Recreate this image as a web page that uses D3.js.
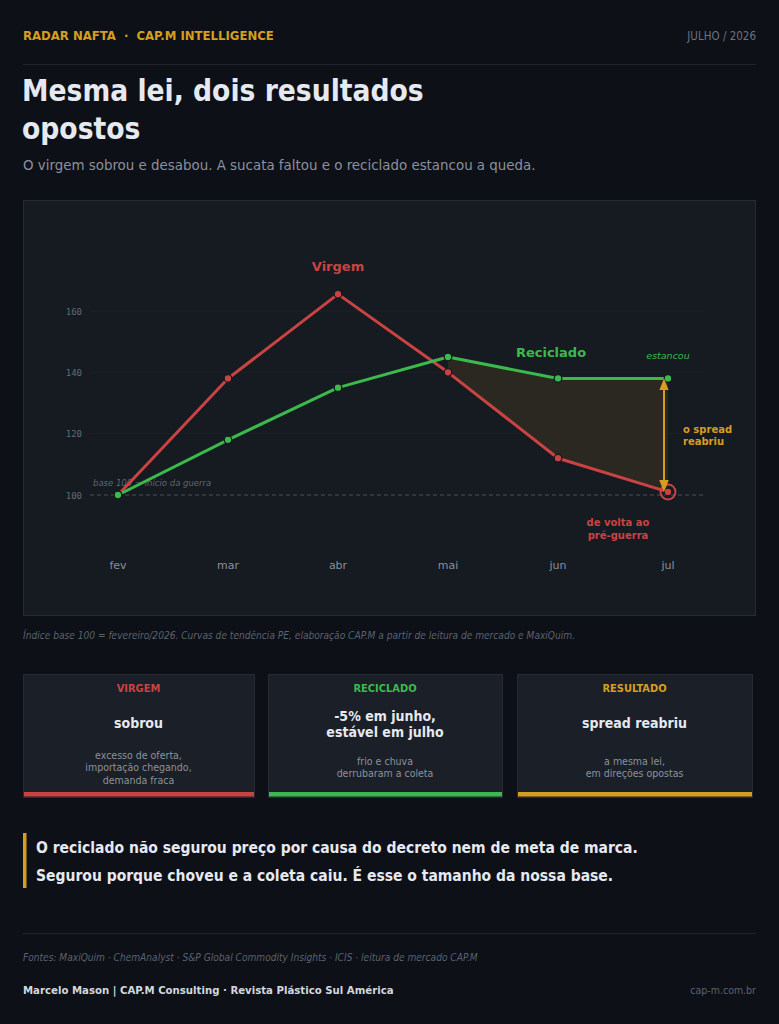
<!DOCTYPE html>
<html>
<head>
<meta charset="utf-8">
<script src="https://cdn.jsdelivr.net/npm/d3@7"></script>
<style>
  html, body { margin: 0; padding: 0; background: #0d1017; }
  svg { display: block; }
</style>
</head>
<body>
<div id="chart"></div>
<script>
var months = ["fev", "mar", "abr", "mai", "jun", "jul"];
var virgem = [100, 138, 165.5, 140, 112, 101];
var reciclado = [100, 118, 135, 145, 138, 138];
var yTicks = [100, 120, 140, 160];

var cardTitles = ["VIRGEM", "RECICLADO", "RESULTADO"];
var cardMain = [["sobrou"], ["-5% em junho,", "estável em julho"], ["spread reabriu"]];
var cardNotes = [["excesso de oferta,", "importação chegando,", "demanda fraca"],
                 ["frio e chuva", "derrubaram a coleta"],
                 ["a mesma lei,", "em direções opostas"]];

function init() {
    var w = 779, h = 1024;
    var red = "#c94343", green = "#3cb94d", gold = "#d69e20";
    var cond = "'DejaVu Sans Condensed', 'DejaVu Sans', sans-serif";
    var sans = "'DejaVu Sans', sans-serif";

    var svg = d3.select("#chart").append("svg")
        .attr("width", w)
        .attr("height", h);

    svg.append("rect").attr("width", w).attr("height", h).attr("fill", "#0d1017");

    // header
    svg.append("text").attr("x", 23).attr("y", 40)
        .attr("font-family", cond).attr("font-weight", "bold").attr("font-size", 13)
        .attr("fill", gold).text("RADAR NAFTA  ·  CAP.M INTELLIGENCE")
        .attr("xml:space", "preserve");
    svg.append("text").attr("x", 756).attr("y", 40).attr("text-anchor", "end")
        .attr("font-family", cond).attr("font-size", 11.5)
        .attr("fill", "#6b7280").text("JULHO / 2026");
    svg.append("line").attr("x1", 23).attr("x2", 756).attr("y1", 64.5).attr("y2", 64.5)
        .attr("stroke", "#1f232c");

    var title = svg.append("text").attr("font-family", cond).attr("font-weight", "bold")
        .attr("font-size", 29.6).attr("fill", "#e6e9ef");
    title.append("tspan").attr("x", 22).attr("y", 101).text("Mesma lei, dois resultados");
    title.append("tspan").attr("x", 22).attr("y", 139).text("opostos");

    svg.append("text").attr("x", 23).attr("y", 170)
        .attr("font-family", cond).attr("font-size", 14.9)
        .attr("fill", "#8b919c")
        .text("O virgem sobrou e desabou. A sucata faltou e o reciclado estancou a queda.");

    // chart panel
    svg.append("rect").attr("x", 23.5).attr("y", 200.5).attr("width", 732).attr("height", 415)
        .attr("fill", "#161a21").attr("stroke", "#262a33");

    var xScale = d3.scalePoint().domain(months).range([118, 668]);
    var yScale = d3.scaleLinear().domain([100, 160]).range([495, 311]);

    svg.append("g").selectAll("line").data(yTicks.slice(1)).enter().append("line")
        .attr("x1", 90).attr("x2", 705)
        .attr("y1", function(d) { return yScale(d); })
        .attr("y2", function(d) { return yScale(d); })
        .attr("stroke", "#1c2028");

    svg.append("g").selectAll("text").data(yTicks).enter().append("text")
        .attr("x", 82).attr("y", function(d) { return yScale(d) + 3.5; })
        .attr("text-anchor", "end")
        .attr("font-family", "'DejaVu Sans Mono', monospace").attr("font-size", 9)
        .attr("fill", "#646b77")
        .text(function(d) { return d; });

    svg.append("line").attr("x1", 90).attr("x2", 705)
        .attr("y1", yScale(100)).attr("y2", yScale(100))
        .attr("stroke", "#4a505b").attr("stroke-dasharray", "4,3");

    svg.append("text").attr("x", 93).attr("y", yScale(100) - 9)
        .attr("font-family", sans).attr("font-style", "italic").attr("font-size", 8.5)
        .attr("fill", "#5f6673").text("base 100 = início da guerra");

    svg.append("g").selectAll("text").data(months).enter().append("text")
        .attr("x", function(d) { return xScale(d); }).attr("y", 569)
        .attr("text-anchor", "middle")
        .attr("font-family", sans).attr("font-size", 11)
        .attr("fill", "#8a909a")
        .text(function(d) { return d; });

    // spread area mai..jul
    var idx = [3, 4, 5];
    var area = d3.area()
        .x(function(i) { return xScale(months[i]); })
        .y0(function(i) { return yScale(virgem[i]); })
        .y1(function(i) { return yScale(reciclado[i]); });
    svg.append("path").datum(idx).attr("d", area)
        .attr("fill", "#2a2821");

    var line = d3.line()
        .x(function(d, i) { return xScale(months[i]); })
        .y(function(d) { return yScale(d); });

    svg.append("path").datum(virgem).attr("d", line)
        .attr("fill", "none").attr("stroke", red).attr("stroke-width", 3)
        .attr("stroke-linejoin", "round");
    svg.append("path").datum(reciclado).attr("d", line)
        .attr("fill", "none").attr("stroke", green).attr("stroke-width", 3)
        .attr("stroke-linejoin", "round");

    svg.append("circle").attr("cx", xScale("jul")).attr("cy", yScale(virgem[5]))
        .attr("r", 7.5).attr("fill", "none").attr("stroke", red).attr("stroke-width", 2);

    svg.append("g").selectAll("circle").data(virgem).enter().append("circle")
        .attr("cx", function(d, i) { return xScale(months[i]); })
        .attr("cy", function(d) { return yScale(d); })
        .attr("r", 3.8).attr("fill", red).attr("stroke", "#161a21").attr("stroke-width", 1.3);
    svg.append("g").selectAll("circle").data(reciclado).enter().append("circle")
        .attr("cx", function(d, i) { return xScale(months[i]); })
        .attr("cy", function(d) { return yScale(d); })
        .attr("r", 3.8).attr("fill", green).attr("stroke", "#161a21").attr("stroke-width", 1.3);

    // spread arrow
    var defs = svg.append("defs");
    ["start", "end"].forEach(function(k) {
        defs.append("marker").attr("id", "arr-" + k)
            .attr("viewBox", "0 0 10 10").attr("refX", 5).attr("refY", 5)
            .attr("markerWidth", 6).attr("markerHeight", 6)
            .attr("orient", "auto-start-reverse")
            .append("path").attr("d", "M0,1 L10,5 L0,9 z").attr("fill", gold);
    });
    svg.append("line").attr("x1", xScale("jul") - 4).attr("x2", xScale("jul") - 4)
        .attr("y1", yScale(reciclado[5]) + 6).attr("y2", yScale(virgem[5]) - 6)
        .attr("stroke", gold).attr("stroke-width", 2)
        .attr("marker-start", "url(#arr-start)").attr("marker-end", "url(#arr-end)");

    // labels
    svg.append("text").attr("x", xScale("abr")).attr("y", 271).attr("text-anchor", "middle")
        .attr("font-family", sans).attr("font-weight", "bold").attr("font-size", 13)
        .attr("fill", red).text("Virgem");
    svg.append("text").attr("x", 551).attr("y", 357).attr("text-anchor", "middle")
        .attr("font-family", sans).attr("font-weight", "bold").attr("font-size", 13)
        .attr("fill", green).text("Reciclado");
    svg.append("text").attr("x", xScale("jul")).attr("y", 359).attr("text-anchor", "middle")
        .attr("font-family", sans).attr("font-style", "italic").attr("font-size", 9.5)
        .attr("fill", green).text("estancou");
    var sp = svg.append("text").attr("font-family", sans).attr("font-weight", "bold")
        .attr("font-size", 10).attr("fill", gold);
    sp.append("tspan").attr("x", 683).attr("y", 433).text("o spread");
    sp.append("tspan").attr("x", 683).attr("y", 445).text("reabriu");
    var pg = svg.append("text").attr("font-family", sans).attr("font-weight", "bold")
        .attr("font-size", 10).attr("fill", red).attr("text-anchor", "middle");
    pg.append("tspan").attr("x", 618).attr("y", 526).text("de volta ao");
    pg.append("tspan").attr("x", 618).attr("y", 539).text("pré-guerra");

    svg.append("text").attr("x", 23).attr("y", 639)
        .attr("font-family", cond).attr("font-style", "italic").attr("font-size", 10.1)
        .attr("fill", "#5b626e")
        .text("Índice base 100 = fevereiro/2026. Curvas de tendência PE, elaboração CAP.M a partir de leitura de mercado e MaxiQuim.");

    // cards
    var cardX = [23, 268, 517], cardW = [231, 234, 235];
    var cardColors = [red, green, gold];
    var cards = svg.append("g").selectAll("g").data(cardTitles).enter().append("g")
        .attr("transform", function(d, i) { return "translate(" + cardX[i] + ",674)"; });
    cards.append("rect").attr("x", 0.5).attr("y", 0.5)
        .attr("width", function(d, i) { return cardW[i]; }).attr("height", 123)
        .attr("fill", "#1b1f27").attr("stroke", "#262b33");
    cards.append("rect").attr("x", 1).attr("y", 118)
        .attr("width", function(d, i) { return cardW[i] - 1; }).attr("height", 4.5)
        .attr("fill", function(d, i) { return cardColors[i]; });
    cards.append("text")
        .attr("x", function(d, i) { return cardW[i] / 2; }).attr("y", 18)
        .attr("text-anchor", "middle")
        .attr("font-family", cond).attr("font-weight", "bold").attr("font-size", 11)
        .attr("fill", function(d, i) { return cardColors[i]; })
        .text(function(d) { return d; });
    cards.each(function(d, i) {
        var g = d3.select(this), cx = cardW[i] / 2;
        var m = cardMain[i];
        var y0 = m.length === 1 ? 54 : 47;
        var t = g.append("text").attr("text-anchor", "middle")
            .attr("font-family", cond).attr("font-weight", "bold").attr("font-size", 14)
            .attr("fill", "#e6e9ef");
        m.forEach(function(s, j) {
            t.append("tspan").attr("x", cx).attr("y", y0 + j * 16).text(s);
        });
        var n = cardNotes[i];
        var ny = n.length === 3 ? 85 : 91;
        var t2 = g.append("text").attr("text-anchor", "middle")
            .attr("font-family", cond).attr("font-size", 10.5)
            .attr("fill", "#8b919c");
        n.forEach(function(s, j) {
            t2.append("tspan").attr("x", cx).attr("y", ny + j * 12.3).text(s);
        });
    });

    // quote
    svg.append("rect").attr("x", 23).attr("y", 833).attr("width", 3.5).attr("height", 55)
        .attr("fill", gold);
    var q = svg.append("text").attr("font-family", cond).attr("font-weight", "bold")
        .attr("font-size", 15.5).attr("fill", "#e6e9ef");
    q.append("tspan").attr("x", 36).attr("y", 853)
        .text("O reciclado não segurou preço por causa do decreto nem de meta de marca.");
    q.append("tspan").attr("x", 36).attr("y", 881)
        .text("Segurou porque choveu e a coleta caiu. É esse o tamanho da nossa base.");

    // footer
    svg.append("line").attr("x1", 23).attr("x2", 756).attr("y1", 933.5).attr("y2", 933.5)
        .attr("stroke", "#1f232c");
    svg.append("text").attr("x", 23).attr("y", 961)
        .attr("font-family", cond).attr("font-style", "italic").attr("font-size", 10.1)
        .attr("fill", "#5b626e")
        .text("Fontes: MaxiQuim · ChemAnalyst · S&P Global Commodity Insights · ICIS · leitura de mercado CAP.M");
    svg.append("text").attr("x", 23).attr("y", 994)
        .attr("font-family", cond).attr("font-weight", "bold").attr("font-size", 11.3)
        .attr("fill", "#d3d7de")
        .text("Marcelo Mason | CAP.M Consulting · Revista Plástico Sul América");
    svg.append("text").attr("x", 756).attr("y", 994).attr("text-anchor", "end")
        .attr("font-family", cond).attr("font-size", 10.5)
        .attr("fill", "#5b626e").text("cap-m.com.br");
}

window.onload = init;
</script>
</body>
</html>
